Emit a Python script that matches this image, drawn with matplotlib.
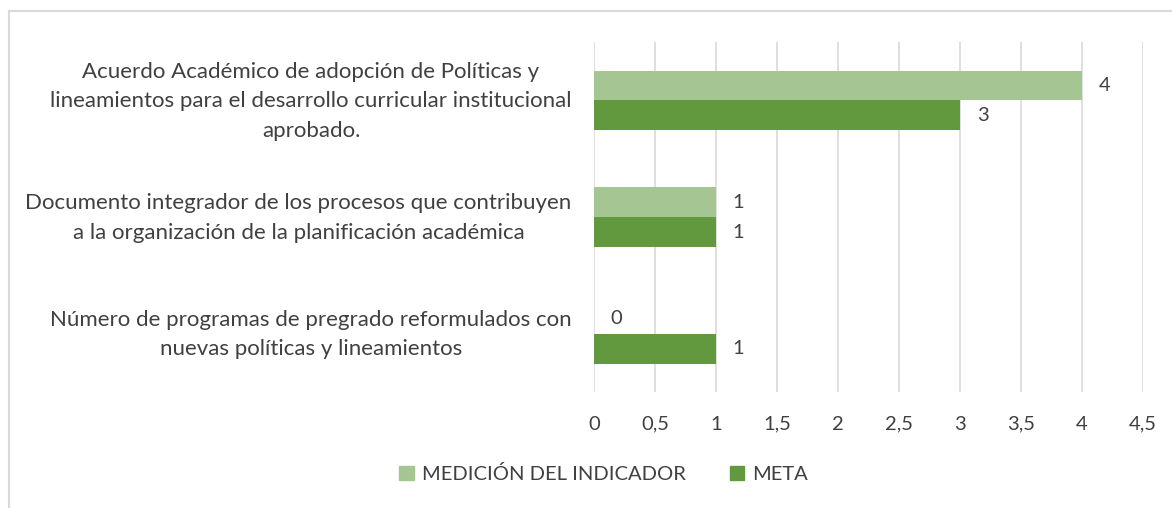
import matplotlib.pyplot as plt
import matplotlib.transforms as mtransforms
import numpy as np
from matplotlib.lines import Line2D
from matplotlib.patches import Patch

categories = [
    "Acuerdo Académico de adopción de Políticas y\nlineamientos para el desarrollo curricular institucional\naprobado.",
    "Documento integrador de los procesos que contribuyen\na la organización de la planificación académica",
    "Número de programas de pregrado reformulados con\nnuevas políticas y lineamientos",
]
medicion = [4, 1, 0]
meta = [3, 1, 1]
xticks = [0, 0.5, 1, 1.5, 2, 2.5, 3, 3.5, 4, 4.5]
xtick_labels = ["0", "0,5", "1", "1,5", "2", "2,5", "3", "3,5", "4", "4,5"]

light = "#A5C693"
dark = "#62993E"
txt = "#404040"
fs = 14.5

plt.rcParams['font.family'] = ['Lato', 'DejaVu Sans']

fig = plt.figure(figsize=(11.72, 5.08), dpi=100)
ax = fig.add_axes([0.5068, 0.228, 0.4685, 0.689])

y = np.arange(len(categories))[::-1].astype(float)
h = 0.257
ax.barh(y + h / 2, medicion, height=h, color=light, zorder=3)
ax.barh(y - h / 2, meta, height=h, color=dark, zorder=3)

for yi, v in zip(y + h / 2, medicion):
    ax.annotate(str(v), (v, yi), xytext=(12, 0), textcoords='offset points',
                va='center', ha='left', fontsize=fs, color=txt)
for yi, v in zip(y - h / 2, meta):
    ax.annotate(str(v), (v, yi), xytext=(12, 0), textcoords='offset points',
                va='center', ha='left', fontsize=fs, color=txt)

ax.set_xlim(0, 4.5)
ax.set_ylim(-0.5, 2.5)
ax.set_xticks(xticks)
ax.set_xticklabels(xtick_labels, fontsize=fs, color=txt)
ax.set_yticks(y)
ax.set_yticklabels(categories, fontsize=16, color=txt, multialignment='center',
                   linespacing=1.6)
ax.tick_params(axis='both', length=0)
ax.tick_params(axis='x', pad=17)
ax.tick_params(axis='y', pad=16)
ax.grid(axis='x', color='#D9D9D9', linewidth=1.2, zorder=0)
for s in ax.spines.values():
    s.set_visible(False)

# nudge the category labels up a little
shift = mtransforms.ScaledTranslation(0, 6 / 100, fig.dpi_scale_trans)
for lbl in ax.get_yticklabels():
    lbl.set_transform(lbl.get_transform() + shift)

handles = [Patch(color=light, label="MEDICIÓN DEL INDICADOR"),
           Patch(color=dark, label="META")]
fig.legend(handles=handles, loc='center', bbox_to_anchor=(0.515, 0.067), ncol=2,
           frameon=False, fontsize=fs, labelcolor=txt, handlelength=0.7,
           handleheight=0.7, handletextpad=0.4, columnspacing=2.2)

# chart border (top and left visible)
fig.add_artist(Line2D([9 / 1172, 1], [1 - 11 / 508, 1 - 11 / 508], color='#D9D9D9', lw=1.5))
fig.add_artist(Line2D([9 / 1172, 9 / 1172], [0, 1 - 11 / 508], color='#D9D9D9', lw=1.5))

fig.savefig("out.png", dpi=100)
